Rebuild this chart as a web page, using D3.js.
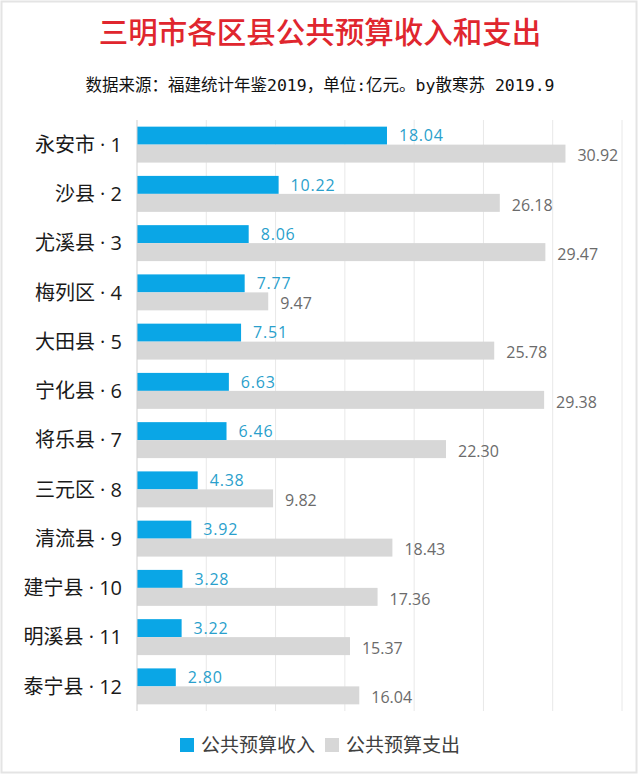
<!DOCTYPE html>
<html>
<head>
<meta charset="utf-8">
<script src="https://cdn.jsdelivr.net/npm/d3@7"></script>
<style>
  body { margin: 0; background: #fff; }
  svg { display: block; font-family: "Open Sans", "Noto Sans CJK SC", sans-serif; }
</style>
</head>
<body>
<div id="chart"></div>
<script>
var regions = ["永安市 · 1", "沙县 · 2", "尤溪县 · 3", "梅列区 · 4", "大田县 · 5", "宁化县 · 6",
  "将乐县 · 7", "三元区 · 8", "清流县 · 9", "建宁县 · 10", "明溪县 · 11", "泰宁县 · 12"];
var income = [18.04, 10.22, 8.06, 7.77, 7.51, 6.63, 6.46, 4.38, 3.92, 3.28, 3.22, 2.80];
var spending = [30.92, 26.18, 29.47, 9.47, 25.78, 29.38, 22.30, 9.82, 18.43, 17.36, 15.37, 16.04];
var xTicks = [0, 5, 10, 15, 20, 25, 30, 35];
var seriesNames = ["公共预算收入", "公共预算支出"];

var width = 640,
  height = 775;
var blue = "#0aa6e6",
  grey = "#d7d7d7";

var svg = d3
  .select("#chart")
  .append("svg")
  .attr("width", width)
  .attr("height", height);

// light frame round the picture
svg
  .append("rect")
  .attr("x", 1.5)
  .attr("y", 1.5)
  .attr("width", width - 5)
  .attr("height", height - 4)
  .attr("fill", "none")
  .attr("stroke", "#e4e4e4")
  .attr("stroke-width", 2);

svg
  .append("text")
  .attr("x", 320)
  .attr("y", 43)
  .attr("text-anchor", "middle")
  .attr("font-family", "Noto Sans CJK SC")
  .attr("font-size", 29.5)
  .attr("font-weight", 500)
  .attr("fill", "#e0262e")
  .text("三明市各区县公共预算收入和支出");

svg
  .append("text")
  .attr("x", 320)
  .attr("y", 91)
  .attr("text-anchor", "middle")
  .attr("font-family", "DejaVu Sans Mono, Noto Sans CJK SC")
  .attr("font-size", 16.5)
  .attr("fill", "#111")
  .text("数据来源：福建统计年鉴2019，单位:亿元。by散寒苏 2019.9");

var x = d3.scaleLinear().domain([0, 35]).range([137, 622]);
var y = d3
  .scaleBand()
  .domain(regions)
  .range([120, 711])
  .paddingInner(0.27)
  .paddingOuter(0.135);
var sub = d3.scaleBand().domain(seriesNames).range([0, y.bandwidth()]);

// gridlines
svg
  .append("g")
  .selectAll("line")
  .data(xTicks.slice(1))
  .enter()
  .append("line")
  .attr("x1", function(d) { return x(d); })
  .attr("x2", function(d) { return x(d); })
  .attr("y1", 120)
  .attr("y2", 711)
  .attr("stroke", "#e8e8e8")
  .attr("stroke-width", 1);

var rows = svg
  .append("g")
  .selectAll("g")
  .data(regions)
  .enter()
  .append("g")
  .attr("transform", function(d) { return "translate(0," + y(d) + ")"; });

rows
  .append("rect")
  .attr("x", x(0))
  .attr("y", sub(seriesNames[0]))
  .attr("height", sub.bandwidth())
  .attr("width", function(d, i) { return x(income[i]) - x(0); })
  .attr("fill", blue);

rows
  .append("rect")
  .attr("x", x(0))
  .attr("y", sub(seriesNames[1]))
  .attr("height", sub.bandwidth())
  .attr("width", function(d, i) { return x(spending[i]) - x(0); })
  .attr("fill", grey);

rows
  .append("text")
  .attr("x", function(d, i) { return x(income[i]) + 12; })
  .attr("y", sub(seriesNames[0]) + sub.bandwidth() / 2)
  .attr("dy", "0.36em")
  .attr("font-size", 16)
  .attr("letter-spacing", 0.8)
  .attr("fill", "#2a9fcc")
  .text(function(d, i) { return income[i].toFixed(2); });

rows
  .append("text")
  .attr("x", function(d, i) { return x(spending[i]) + 12; })
  .attr("y", sub(seriesNames[1]) + sub.bandwidth() / 2 + 2)
  .attr("dy", "0.36em")
  .attr("font-size", 16)
  .attr("fill", "#6b6b6b")
  .text(function(d, i) { return spending[i].toFixed(2); });

rows
  .append("text")
  .attr("x", 122)
  .attr("y", y.bandwidth() / 2)
  .attr("dy", "0.36em")
  .attr("text-anchor", "end")
  .attr("font-size", 20)
  .attr("fill", "#1a1a1a")
  .text(function(d) { return d; });

// axis line at zero
svg
  .append("line")
  .attr("x1", x(0))
  .attr("x2", x(0))
  .attr("y1", 120)
  .attr("y2", 711)
  .attr("stroke", "#cfcfcf")
  .attr("stroke-width", 1);

// legend
var legendX = [180, 325];
var legend = svg
  .append("g")
  .selectAll("g")
  .data(seriesNames)
  .enter()
  .append("g")
  .attr("transform", function(d, i) { return "translate(" + legendX[i] + ",738)"; });

legend
  .append("rect")
  .attr("width", 14)
  .attr("height", 14)
  .attr("fill", function(d, i) { return i === 0 ? blue : grey; });

legend
  .append("text")
  .attr("x", 21)
  .attr("y", 7)
  .attr("dy", "0.36em")
  .attr("font-size", 19)
  .attr("fill", "#404040")
  .text(function(d) { return d; });
</script>
</body>
</html>
